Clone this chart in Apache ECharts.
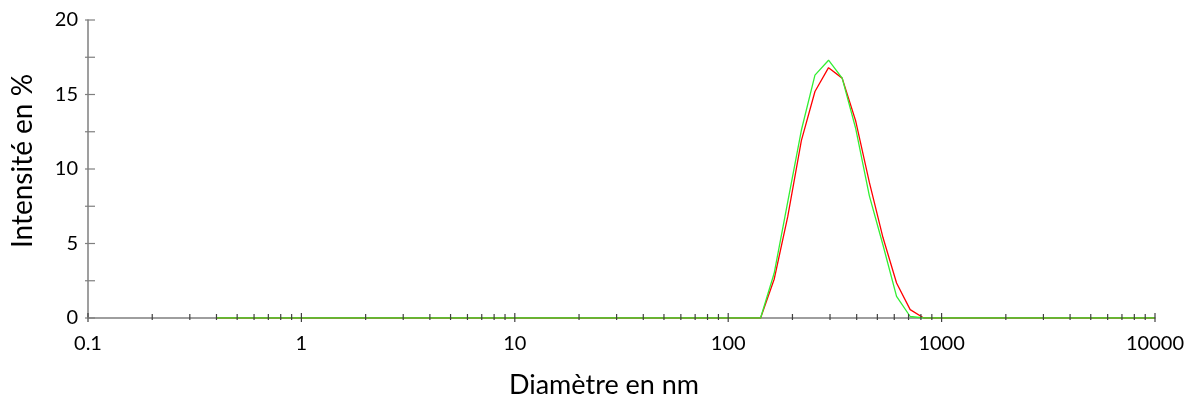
<!DOCTYPE html>
<html>
<head>
<meta charset="utf-8">
<script src="https://cdn.jsdelivr.net/npm/echarts@6/dist/echarts.min.js"></script>
<style>
  html, body { margin: 0; padding: 0; background: #fff; }
  #chart { width: 1191px; height: 401px; }
</style>
</head>
<body>
<div id="chart"></div>
<script>
// Size classes (nm)
const sizes = [0.4, 0.4632, 0.5365, 0.6213, 0.7195, 0.8332, 0.9649, 1.117, 1.294, 1.499,
  1.736, 2.01, 2.328, 2.696, 3.122, 3.615, 4.187, 4.849, 5.615, 6.503,
  7.531, 8.721, 10.1, 11.7, 13.54, 15.69, 18.17, 21.04, 24.36, 28.21,
  32.67, 37.84, 43.82, 50.75, 58.77, 68.06, 78.82, 91.28, 105.7, 122.4,
  141.8, 164.2, 190.1, 220.2, 255.0, 295.3, 342.0, 396.1, 458.7, 531.2,
  615.1, 712.4, 825.0, 955.4, 1106, 1281, 1484, 1718, 1990, 2305,
  2669, 3091, 3580, 4145, 4801, 5560, 6439, 7456, 8635, 10000];

// Intensity (%) - red measurement
const redValues = [0, 0, 0, 0, 0, 0, 0, 0, 0, 0,
  0, 0, 0, 0, 0, 0, 0, 0, 0, 0,
  0, 0, 0, 0, 0, 0, 0, 0, 0, 0,
  0, 0, 0, 0, 0, 0, 0, 0, 0, 0,
  0, 2.6, 6.8, 11.9, 15.2, 16.8, 16.1, 13.2, 9.1, 5.4,
  2.35, 0.56, 0, 0, 0, 0, 0, 0, 0, 0,
  0, 0, 0, 0, 0, 0, 0, 0, 0, 0];

// Intensity (%) - green measurement
const greenValues = [0, 0, 0, 0, 0, 0, 0, 0, 0, 0,
  0, 0, 0, 0, 0, 0, 0, 0, 0, 0,
  0, 0, 0, 0, 0, 0, 0, 0, 0, 0,
  0, 0, 0, 0, 0, 0, 0, 0, 0, 0,
  0, 3.0, 7.8, 12.6, 16.3, 17.3, 16.1, 12.7, 8.2, 4.9,
  1.45, 0.1, 0, 0, 0, 0, 0, 0, 0, 0,
  0, 0, 0, 0, 0, 0, 0, 0, 0, 0];

// Axis tick positions
const xMajorTicks = [0.1, 1, 10, 100, 1000, 10000];
const xMinorTicks = [0.2, 0.3, 0.4, 0.5, 0.6, 0.7, 0.8, 0.9,
  2, 3, 4, 5, 6, 7, 8, 9,
  20, 30, 40, 50, 60, 70, 80, 90,
  200, 300, 400, 500, 600, 700, 800, 900,
  2000, 3000, 4000, 5000, 6000, 7000, 8000, 9000];
const yTicks = [0, 2.5, 5, 7.5, 10, 12.5, 15, 17.5, 20];

const xTitle = 'Diamètre en nm';
const yTitle = 'Intensité en %';

const FONT = 'Lato, "Open Sans", sans-serif';

const chart = echarts.init(document.getElementById('chart'), null, { renderer: 'canvas' });

const tickData = [];
xMajorTicks.forEach(v => tickData.push([v, 0, 0]));
xMinorTicks.forEach(v => tickData.push([v, 0, 1]));
yTicks.forEach(v => tickData.push([0.1, v, 2]));

const option = {
  animation: false,
  backgroundColor: '#ffffff',
  grid: { left: 88, right: 36, top: 20, bottom: 83, containLabel: false },
  xAxis: {
    type: 'log',
    logBase: 10,
    min: 0.1,
    max: 10000,
    axisLine: { show: true, lineStyle: { color: '#7f7f7f', width: 1.5 } },
    axisTick: { show: false },
    minorTick: { show: false },
    splitLine: { show: false },
    axisLabel: {
      margin: 16,
      fontFamily: FONT,
      fontSize: 20,
      color: '#000',
      formatter: v => String(+Number(v).toPrecision(6))
    }
  },
  yAxis: {
    type: 'value',
    min: 0,
    max: 20,
    interval: 2.5,
    axisLine: { show: true, lineStyle: { color: '#7f7f7f', width: 1.5 } },
    axisTick: { show: false },
    splitLine: { show: false },
    axisLabel: {
      margin: 10,
      fontFamily: FONT,
      fontSize: 20,
      color: '#000',
      formatter: v => (v % 5 === 0 ? String(v) : '')
    }
  },
  graphic: [
    {
      type: 'text',
      x: 604, y: 385,
      style: {
        text: xTitle, fontFamily: FONT, fontSize: 27, fill: '#000',
        textAlign: 'center', textVerticalAlign: 'middle'
      }
    },
    {
      type: 'text',
      x: 23, y: 161,
      rotation: Math.PI / 2,
      style: {
        text: yTitle, fontFamily: FONT, fontSize: 28, fill: '#000',
        textAlign: 'center', textVerticalAlign: 'middle'
      }
    }
  ],
  series: [
    {
      name: 'red',
      type: 'line',
      data: sizes.map((s, i) => [s, redValues[i]]),
      showSymbol: false,
      symbol: 'none',
      lineStyle: { color: '#ff0000', width: 1.3 },
      z: 3
    },
    {
      name: 'green',
      type: 'line',
      data: sizes.map((s, i) => [s, greenValues[i]]),
      showSymbol: false,
      symbol: 'none',
      lineStyle: { color: '#33ee33', width: 1.3 },
      z: 4
    },
    {
      name: 'ticks',
      type: 'custom',
      clip: false,
      silent: true,
      z: 10,
      data: tickData,
      renderItem: function (params, api) {
        const kind = api.value(2);
        const p = api.coord([api.value(0), api.value(1)]);
        let shape;
        if (kind === 0) {
          shape = { x1: p[0], y1: p[1] - 5, x2: p[0], y2: p[1] + 4 };
        } else if (kind === 1) {
          shape = { x1: p[0], y1: p[1] - 4, x2: p[0], y2: p[1] + 2 };
        } else {
          shape = { x1: p[0] - 3, y1: p[1], x2: p[0] + 7, y2: p[1] };
        }
        return {
          type: 'line',
          shape: shape,
          style: { stroke: kind === 2 ? '#7f7f7f' : '#404040', lineWidth: 1.2 }
        };
      }
    }
  ]
};

chart.setOption(option);
</script>
</body>
</html>
